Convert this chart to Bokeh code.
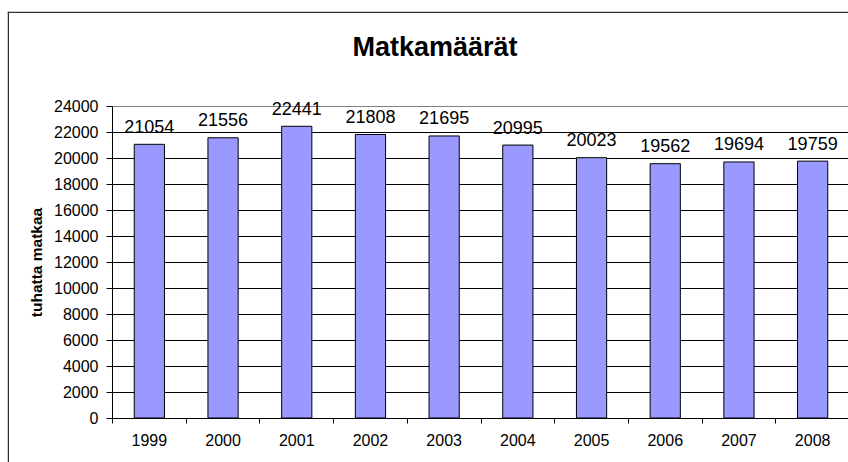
from bokeh.plotting import figure
from bokeh.models import (ColumnDataSource, Range1d, FixedTicker, LabelSet, Label,
                          Span, Grid)
from bokeh.core.properties import value
from bokeh.embed import file_html
from bokeh.resources import INLINE

years = ["1999", "2000", "2001", "2002", "2003", "2004", "2005", "2006", "2007", "2008"]
trips = [21054, 21556, 22441, 21808, 21695, 20995, 20023, 19562, 19694, 19759]
y_ticks = [0, 2000, 4000, 6000, 8000, 10000, 12000, 14000, 16000, 18000, 20000, 22000, 24000]
title_text = "Matkamäärät"
y_label = "tuhatta matkaa"

FONT = "Liberation Sans"

# ---- layout geometry (pixels) ----
W, H = 848, 462
FL, FT = 7, 11            # outer chart border (frame) left / top
AX_X = 112.0              # pixel x of the value axis
CAT_PX = 73.7             # pixel width of one category
ZERO_Y, TOP_Y = 417.5, 105.5   # pixel y of 0 and of the axis maximum

ky = (ZERO_Y - TOP_Y) / y_ticks[-1]
x_start = (FL - AX_X) / CAT_PX
x_end = (W - AX_X) / CAT_PX
y_end = (ZERO_Y - FT) / ky
y_start = -(H - ZERO_Y) / ky

xpos = [i + 0.5 for i in range(len(years))]
src = ColumnDataSource(dict(x=xpos, top=trips, lab=[str(v) for v in trips]))

p = figure(width=W, height=H, output_backend="svg", toolbar_location=None,
           x_range=Range1d(x_start, x_end), y_range=Range1d(y_start, y_end),
           min_border_left=FL, min_border_right=0, min_border_top=FT, min_border_bottom=0)
p.background_fill_color = "white"
p.border_fill_color = "white"
p.outline_line_color = None

# grid lines restricted to the plot area
n = len(years)
x_hi = min(n, x_end)
grid_vals = y_ticks[1:-1]
has_cross = "cross_bounds" in Grid.properties()
if has_cross:
    p.ygrid.ticker = FixedTicker(ticks=grid_vals)
    p.ygrid.grid_line_color = "black"
    p.ygrid.cross_bounds = (0, x_hi)
    top_grid = Grid(dimension=1, ticker=FixedTicker(ticks=[y_ticks[-1]]),
                    grid_line_color="#808080", cross_bounds=(0, x_hi))
    p.add_layout(top_grid)
else:
    p.ygrid.grid_line_color = None
    p.segment(x0=[0] * len(grid_vals), x1=[n] * len(grid_vals), y0=grid_vals, y1=grid_vals,
              line_color="black", line_width=1)
    p.segment(x0=[0], x1=[n], y0=[y_ticks[-1]], y1=[y_ticks[-1]],
              line_color="#808080", line_width=1)
p.xgrid.grid_line_color = None

p.vbar(x="x", top="top", width=0.41, bottom=0, source=src,
       fill_color="#9999FF", line_color="black", line_width=1)

labels = LabelSet(x="x", y="top", text="lab", source=src, text_align="center",
                  text_baseline="middle", y_offset=18, text_font=value(FONT),
                  text_font_size=value("18px"), text_color="black")
p.add_layout(labels)

# x axis
p.xaxis.fixed_location = 0
p.xaxis.bounds = (0, n)
p.xaxis.ticker = FixedTicker(ticks=xpos, minor_ticks=list(range(n + 1)))
p.xaxis.major_label_overrides = {x: y for x, y in zip(xpos, years)}
p.xaxis.major_tick_out = 0
p.xaxis.major_tick_in = 0
p.xaxis.minor_tick_out = 5
p.xaxis.minor_tick_in = 0
p.xaxis.minor_tick_line_color = "black"
p.xaxis.axis_line_color = "black"
p.xaxis.major_label_standoff = 11
p.xaxis.major_label_text_font = FONT
p.xaxis.major_label_text_font_size = "16px"
p.xaxis.major_label_text_color = "black"

# y axis
p.yaxis.fixed_location = 0
p.yaxis.bounds = (y_ticks[0], y_ticks[-1])
p.yaxis.ticker = FixedTicker(ticks=y_ticks)
p.yaxis.major_tick_out = 6
p.yaxis.major_tick_in = 0
p.yaxis.minor_tick_line_color = None
p.yaxis.axis_line_color = "black"
p.yaxis.major_tick_line_color = "black"
p.yaxis.major_label_standoff = 8
p.yaxis.major_label_text_font = FONT
p.yaxis.major_label_text_font_size = "16px"
p.yaxis.major_label_text_color = "black"
p.yaxis.axis_label = y_label
p.yaxis.axis_label_text_font = FONT
p.yaxis.axis_label_text_font_size = "15.5px"
p.yaxis.axis_label_text_font_style = "bold"
p.yaxis.axis_label_text_color = "black"
p.yaxis.axis_label_standoff = 6

title = Label(x=434.5 - FL, y=H - 46, x_units="screen", y_units="screen", text=title_text,
              text_font=FONT, text_font_style="bold", text_font_size="27px",
              text_align="center", text_baseline="middle", text_color="black")
p.add_layout(title)

# outer chart border (left and top edges visible)
p.add_layout(Span(location=0.75, location_units="screen", dimension="height",
                  line_color="#303030", line_width=1.5))
p.add_layout(Span(location=H - FT - 0.75, location_units="screen", dimension="width",
                  line_color="#303030", line_width=1.5))

open("out.html", "w").write(file_html(p, INLINE))
